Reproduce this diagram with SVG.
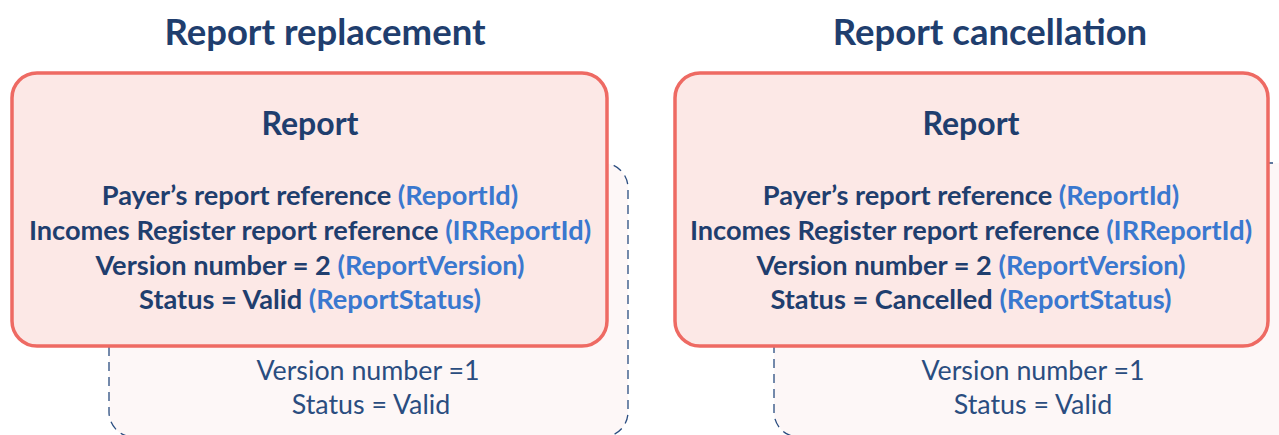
<svg xmlns="http://www.w3.org/2000/svg" width="1279" height="435" viewBox="0 0 1279 435">
<style>
.title{font-family:Lato,"Open Sans","Liberation Sans",sans-serif;font-weight:bold;font-size:36.5px;fill:#1f3e6e;text-anchor:middle}
.head{font-family:Lato,"Open Sans","Liberation Sans",sans-serif;font-weight:bold;font-size:32px;fill:#1f3e6e;text-anchor:middle}
.line{font-family:Lato,"Open Sans","Liberation Sans",sans-serif;font-weight:bold;font-size:27.2px;fill:#1f3e6e;text-anchor:middle}
.blue{fill:#3a78cf}
.old{font-family:Lato,"Open Sans","Liberation Sans",sans-serif;font-size:26.8px;fill:#2a4d80;text-anchor:middle}
.dash{fill:#fdf7f7;stroke:#2a4d80;stroke-width:1.3;stroke-dasharray:9 6}
.main{fill:#fce8e6;stroke:#ee6a63;stroke-width:3.5}
</style>
<text class="title" x="325" y="45">Report replacement</text>
<text class="title" x="990" y="45">Report cancellation</text>
<g id="old-left">
<rect class="dash" x="109" y="163" width="519" height="274" rx="25"/>
<text class="old" x="368" y="380">Version number =1</text>
<text class="old" x="371" y="414">Status = Valid</text>
</g>
<g id="report-left">
<rect class="main" x="12" y="73" width="595" height="273" rx="25"/>
<text class="head" x="310" y="135">Report</text>
<text class="line" x="310" y="205">Payer’s report reference <tspan class="blue">(ReportId)</tspan></text>
<text class="line" x="310" y="240">Incomes Register report reference <tspan class="blue">(IRReportId)</tspan></text>
<text class="line" x="310" y="275">Version number = 2 <tspan class="blue">(ReportVersion)</tspan></text>
<text class="line" x="310" y="309">Status = Valid <tspan class="blue">(ReportStatus)</tspan></text>
</g>
<g id="old-right">
<rect class="dash" x="774" y="163" width="540" height="274" rx="25"/>
<text class="old" x="1033" y="380">Version number =1</text>
<text class="old" x="1033" y="414">Status = Valid</text>
</g>
<g id="report-right">
<rect class="main" x="675" y="73" width="593" height="273" rx="25"/>
<text class="head" x="971" y="135">Report</text>
<text class="line" x="971" y="205">Payer’s report reference <tspan class="blue">(ReportId)</tspan></text>
<text class="line" x="971" y="240">Incomes Register report reference <tspan class="blue">(IRReportId)</tspan></text>
<text class="line" x="971" y="275">Version number = 2 <tspan class="blue">(ReportVersion)</tspan></text>
<text class="line" x="971" y="309">Status = Cancelled <tspan class="blue">(ReportStatus)</tspan></text>
</g>
<g id="connectors"/>
</svg>
